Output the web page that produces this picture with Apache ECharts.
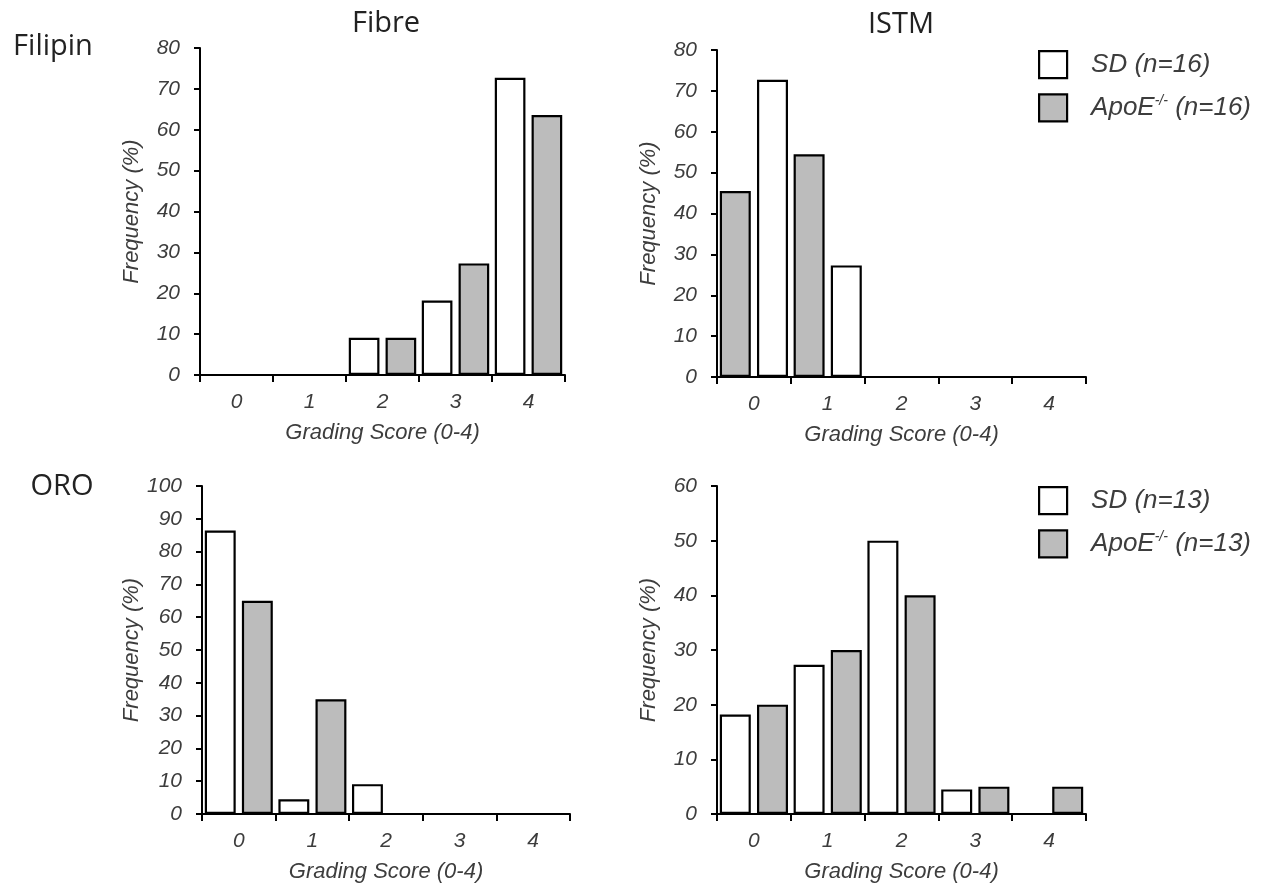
<!DOCTYPE html>
<html>
<head>
<meta charset="utf-8">
<script src="https://cdn.jsdelivr.net/npm/echarts@6/dist/echarts.min.js"></script>
<style>
  html, body { margin: 0; padding: 0; background: #fff; }
  #chart { width: 1267px; height: 887px; }
</style>
</head>
<body>
<div id="chart"></div>
<script>
// ---- data ----
const categories = ['0', '1', '2', '3', '4'];
const yTickMax = [80, 80, 100, 60];

// Filipin staining
const filipinFibreSD   = [0, 0, 9.1, 18.2, 72.7];
const filipinFibreApoE = [0, 0, 9.1, 27.3, 63.6];
const filipinIstmApoE  = [45.5, 54.5, 0, 0, 0];
const filipinIstmSD    = [72.7, 27.3, 0, 0, 0];

// ORO staining
const oroFibreSD   = [86.4, 4.5, 9.1, 0, 0];
const oroFibreApoE = [65, 35, 0, 0, 0];
const oroIstmSD    = [18.2, 27.3, 50, 4.5, 0];
const oroIstmApoE  = [20, 30, 40, 5, 5];

const nameSD16 = 'SD (n=16)', nameApoE16 = 'ApoE-/- (n=16)';
const nameSD13 = 'SD (n=13)', nameApoE13 = 'ApoE-/- (n=13)';

// ---- styling ----
const FONT = 'Liberation Sans';
const TXT = '#3d3d3d';
const WHITE = '#ffffff', GRAY = '#bcbcbc';

const grids = [
  { left: 200, top: 48,  width: 365, height: 327 },
  { left: 717, top: 50,  width: 369, height: 327 },
  { left: 202, top: 486, width: 368, height: 328 },
  { left: 717, top: 486, width: 369, height: 328 }
];

function xAxis(i) {
  return {
    type: 'category', gridIndex: i, data: categories, boundaryGap: true,
    axisLine: { show: true, lineStyle: { color: '#000', width: 2 } },
    axisTick: { show: true, length: 7, interval: 0, lineStyle: { color: '#000', width: 2 } },
    axisLabel: { fontFamily: FONT, fontStyle: 'italic', fontSize: 21, color: TXT, margin: 17 },
    name: 'Grading Score (0-4)', nameLocation: 'middle', nameGap: 47,
    nameTextStyle: { fontFamily: FONT, fontStyle: 'italic', fontSize: 22, color: TXT }
  };
}
function yAxis(i) {
  return {
    type: 'value', gridIndex: i, min: 0, max: yTickMax[i], interval: 10,
    splitLine: { show: false },
    axisLine: { show: true, lineStyle: { color: '#000', width: 2 } },
    axisTick: { show: true, length: 6, lineStyle: { color: '#000', width: 2 } },
    axisLabel: { fontFamily: FONT, fontStyle: 'italic', fontSize: 21, color: TXT, margin: 20 },
    name: 'Frequency (%)', nameLocation: 'middle', nameGap: 57,
    nameTextStyle: { fontFamily: FONT, fontStyle: 'italic', fontSize: 22, color: TXT }
  };
}
function bar(name, data, i, fill) {
  return {
    type: 'bar', name: name, data: data, xAxisIndex: i, yAxisIndex: i,
    barWidth: '42%', barGap: '20%',
    itemStyle: { color: fill, borderColor: '#000', borderWidth: 2.2 },
    emphasis: { disabled: true }, silent: true
  };
}
function legendFmt(name) {
  const m = name.match(/^ApoE-\/- (.*)$/);
  if (m) return '{g|}{t|ApoE}{s|-/-}{t| ' + m[1] + '}';
  return '{g|}{t|' + name + '}';
}
function legend(top, names) {
  return {
    orient: 'vertical', left: 1038, top: top, padding: 0,
    itemWidth: 28, itemHeight: 27, itemGap: 14,
    icon: 'rect', selectedMode: false, data: names, formatter: legendFmt,
    itemStyle: { borderColor: '#000', borderWidth: 2.2 },
    textStyle: {
      rich: {
        g: { width: 19 },
        t: { fontFamily: FONT, fontStyle: 'italic', fontSize: 26, color: TXT, lineHeight: 28 },
        s: { fontFamily: FONT, fontStyle: 'italic', fontSize: 14, color: TXT, lineHeight: 20, verticalAlign: 'top' }
      }
    }
  };
}
function title(text, x, y) {
  return {
    type: 'text', x: x, y: y,
    style: { text: text, font: '29px "Open Sans"', fill: '#222', textAlign: 'center', textVerticalAlign: 'middle' }
  };
}

const option = {
  animation: false,
  backgroundColor: '#fff',
  grid: grids,
  xAxis: [0, 1, 2, 3].map(xAxis),
  yAxis: [0, 1, 2, 3].map(yAxis),
  legend: [legend(50, [nameSD16, nameApoE16]), legend(486, [nameSD13, nameApoE13])],
  series: [
    bar(nameSD16, filipinFibreSD, 0, WHITE),
    bar(nameApoE16, filipinFibreApoE, 0, GRAY),
    bar(nameApoE16, filipinIstmApoE, 1, GRAY),
    bar(nameSD16, filipinIstmSD, 1, WHITE),
    bar(nameSD13, oroFibreSD, 2, WHITE),
    bar(nameApoE13, oroFibreApoE, 2, GRAY),
    bar(nameSD13, oroIstmSD, 3, WHITE),
    bar(nameApoE13, oroIstmApoE, 3, GRAY)
  ],
  graphic: [
    title('Fibre', 386, 24),
    title('ISTM', 901, 25),
    title('Filipin', 53, 47),
    title('ORO', 62, 487)
  ]
};

const chart = echarts.init(document.getElementById('chart'), null, { renderer: 'canvas' });
chart.setOption(option);
</script>
</body>
</html>
